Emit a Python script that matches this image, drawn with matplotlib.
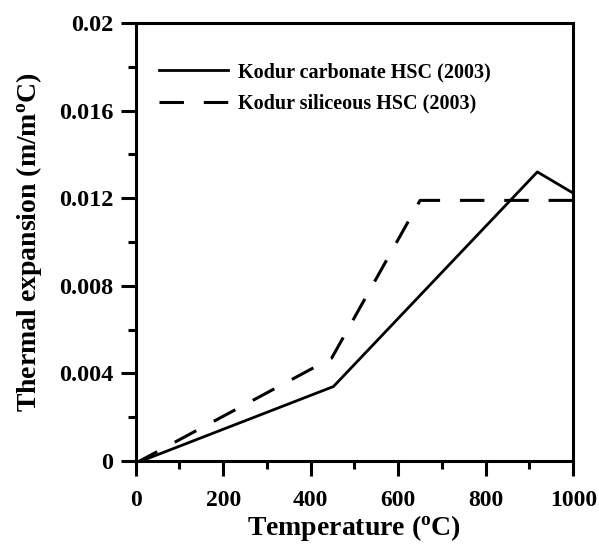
import matplotlib
matplotlib.use('Agg')
import matplotlib.pyplot as plt
from matplotlib.ticker import MultipleLocator

# Thermal expansion data
carb_temp = [0, 452, 918, 1000]
carb_strain = [-0.0001, 0.0034, 0.0132, 0.01223]

sil_temp = [0, 448, 650, 1000]
sil_strain = [-0.0001, 0.0047, 0.0119, 0.0119]

labels = ['Kodur carbonate HSC (2003)', 'Kodur siliceous HSC (2003)']

plt.rcParams['font.family'] = 'Liberation Serif'
plt.rcParams['font.weight'] = 'bold'
plt.rcParams['mathtext.fontset'] = 'custom'
plt.rcParams['mathtext.rm'] = 'Liberation Serif:bold'
plt.rcParams['mathtext.bf'] = 'Liberation Serif:bold'
plt.rcParams['mathtext.it'] = 'Liberation Serif:bold'

fig = plt.figure(figsize=(5.99, 5.44), dpi=100)
ax = fig.add_axes([0.2265, 0.1526, 0.7305, 0.8051])

ax.plot(carb_temp, carb_strain, color='black', lw=2.0, label=labels[0])
ax.plot(sil_temp, sil_strain, color='black', lw=2.2, dashes=(8, 6.5), label=labels[1])

ax.set_xlim(0, 1000)
ax.set_ylim(0, 0.02)
ax.xaxis.set_major_locator(MultipleLocator(200))
ax.xaxis.set_minor_locator(MultipleLocator(100))
ax.yaxis.set_major_locator(MultipleLocator(0.004))
ax.yaxis.set_minor_locator(MultipleLocator(0.002))
ax.set_yticks([0, 0.004, 0.008, 0.012, 0.016, 0.02])
ax.set_yticklabels(['0', '0.004', '0.008', '0.012', '0.016', '0.02'])

for s in ax.spines.values():
    s.set_linewidth(2.2)
ax.tick_params(which='major', direction='out', length=11, width=2.2)
ax.tick_params(which='minor', direction='out', length=6, width=2.2)
ax.tick_params(axis='x', which='major', labelsize=17, pad=10)
ax.tick_params(axis='y', which='major', labelsize=17.5, pad=5)
for lab in ax.get_xticklabels() + ax.get_yticklabels():
    lab.set_fontweight('bold')

ax.set_xlabel(r'Temperature ($^{\mathrm{o}}$C)', fontsize=20, fontweight='bold', labelpad=1)
ax.set_ylabel(r'Thermal expansion (m/m$^{\mathrm{o}}$C)', fontsize=20, fontweight='bold', labelpad=11)

leg = ax.legend(loc='upper left', bbox_to_anchor=(0.034, 0.929), frameon=False,
                fontsize=14.5, handlelength=3.45, handletextpad=0.5,
                labelspacing=0.58, borderaxespad=0)
for t in leg.get_texts():
    t.set_fontweight('bold')

fig.savefig('out.png', dpi=100)
